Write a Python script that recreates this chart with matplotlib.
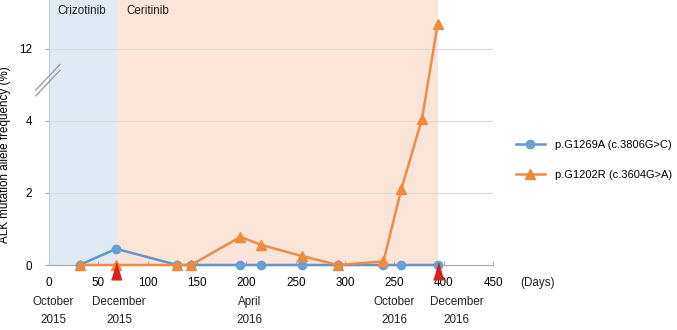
import matplotlib
matplotlib.use('Agg')
import matplotlib.pyplot as plt
import matplotlib.transforms as mtransforms
from matplotlib.lines import Line2D
import numpy as np

plt.rcParams['font.family'] = ['Liberation Sans', 'DejaVu Sans']

# sampling days and allele frequencies (%)
days = [31, 68, 130, 144, 194, 215, 256, 293, 339, 357, 378, 394]
g1269a_days = [31, 68, 130, 144, 194, 215, 256, 293, 339, 357, 394]
g1269a = [0, 0.45, 0, 0, 0, 0, 0, 0, 0, 0, 0]
g1202r = [0, 0, 0, 0, 0.78, 0.56, 0.25, 0, 0.1, 2.1, 4.2, 12.7]
ct_days = [68, 394]  # red markers on the time axis

crizotinib_span = (0, 69)
ceritinib_span = (69, 394)

x_ticks = [0, 50, 100, 150, 200, 250, 300, 350, 400, 450]
x_ticklabels = ['0', '50', '100', '150', '200', '250', '300', '250', '400', '450']
y_ticks = [0, 2, 4, 12]
months = ['October', 'December', 'April', 'October', 'December']
years = ['2015', '2015', '2016', '2016', '2016']
month_pos = [4, 71, 203, 350, 413]

BLUE = '#6595c9'
BLUE_M = '#6b9fd3'
ORANGE = '#ec8c45'
ORANGE_M = '#ee8a3a'
FS = 8.4


def fwd(v):
    v = np.asarray(v, dtype=float)
    return np.where(v <= 4, v, np.where(v < 12, 4 + (v - 4) / 4.0, v - 6))


def inv(d):
    d = np.asarray(d, dtype=float)
    return np.where(d <= 4, d, np.where(d < 6, 4 + (d - 4) * 4.0, d + 6))


fig = plt.figure(figsize=(6.77, 3.3), dpi=100)
ax = fig.add_axes([49 / 677, 65 / 330, 444 / 677, 265 / 330])
ax.set_yscale('function', functions=(fwd, inv))
ax.set_xlim(0, 450)
ax.set_ylim(0, 13.36)

ax.axvspan(*crizotinib_span, color='#dfeaf5', zorder=0, lw=0)
ax.axvspan(*ceritinib_span, color='#fbe5d8', zorder=0, lw=0)

for yv in y_ticks[1:]:
    ax.axhline(yv, color='#d9d9d9', lw=0.8, zorder=1)

ax.plot(g1269a_days, g1269a, color=BLUE, lw=1.8, marker='o', ms=6,
        mfc=BLUE_M, mec=BLUE_M, clip_on=False, zorder=3, label='p.G1269A (c.3806G>C)')
ax.plot(days, g1202r, color=ORANGE, lw=1.8, marker='^', ms=7.5,
        mfc=ORANGE_M, mec=ORANGE_M, clip_on=False, zorder=4, label='p.G1202R (c.3604G>A)')

shift = mtransforms.offset_copy(ax.transData, fig=fig, x=0, y=-4, units='points')
tall_tri = [(-0.6, -1), (0.6, -1), (0, 1)]
ax.plot(ct_days, [0] * len(ct_days), linestyle='none', marker=tall_tri, ms=12,
        color='#d42222', transform=shift, clip_on=False, zorder=5)

ax.set_xticks(x_ticks)
ax.set_xticklabels(x_ticklabels)
ax.set_yticks(y_ticks)
ax.set_yticklabels([str(t) for t in y_ticks])
ax.tick_params(axis='x', direction='in', length=3, color='#aaaaaa', labelsize=FS, pad=9)
ax.tick_params(axis='y', direction='out', length=3, color='#aaaaaa', labelsize=FS, pad=9)

for s in ['top', 'right']:
    ax.spines[s].set_visible(False)
ax.spines['bottom'].set_color('#aaaaaa')
ax.spines['left'].set_color('#c4cdd6')
ax.spines['left'].set_linewidth(0.8)

# axis break marks
for dy in (0, -0.022):
    ax.add_line(Line2D([-0.030, 0.025], [0.66 + dy, 0.757 + dy], transform=ax.transAxes,
                       color='#999999', lw=0.9, clip_on=False, zorder=6))

ax.text(8, 13.05, 'Crizotinib', fontsize=FS, va='center', ha='left', color='#222222')
ax.text(78, 13.05, 'Ceritinib', fontsize=FS, va='center', ha='left', color='#222222')

xt = ax.get_xaxis_transform()
for m, yr, xp in zip(months, years, month_pos):
    ax.annotate(m, (xp, 0), xycoords=xt, xytext=(0, -26.5), textcoords='offset points',
                ha='center', va='center', fontsize=FS, color='#222222')
    ax.annotate(yr, (xp, 0), xycoords=xt, xytext=(0, -39.5), textcoords='offset points',
                ha='center', va='center', fontsize=FS, color='#222222')
ax.annotate('(Days)', (478, 0), xycoords=xt, xytext=(0, -13), textcoords='offset points',
            ha='left', va='center', fontsize=FS, color='#222222')

ax.set_ylabel('ALK mutation allele frequency (%)', fontsize=FS)
ax.yaxis.set_label_coords(-0.085, 0.415)

fig.legend(loc='center left', bbox_to_anchor=(0.747, 0.515), frameon=False, fontsize=8,
           handlelength=2.6, labelspacing=1.75, handletextpad=0.9)

fig.savefig('out.png', dpi=100)
